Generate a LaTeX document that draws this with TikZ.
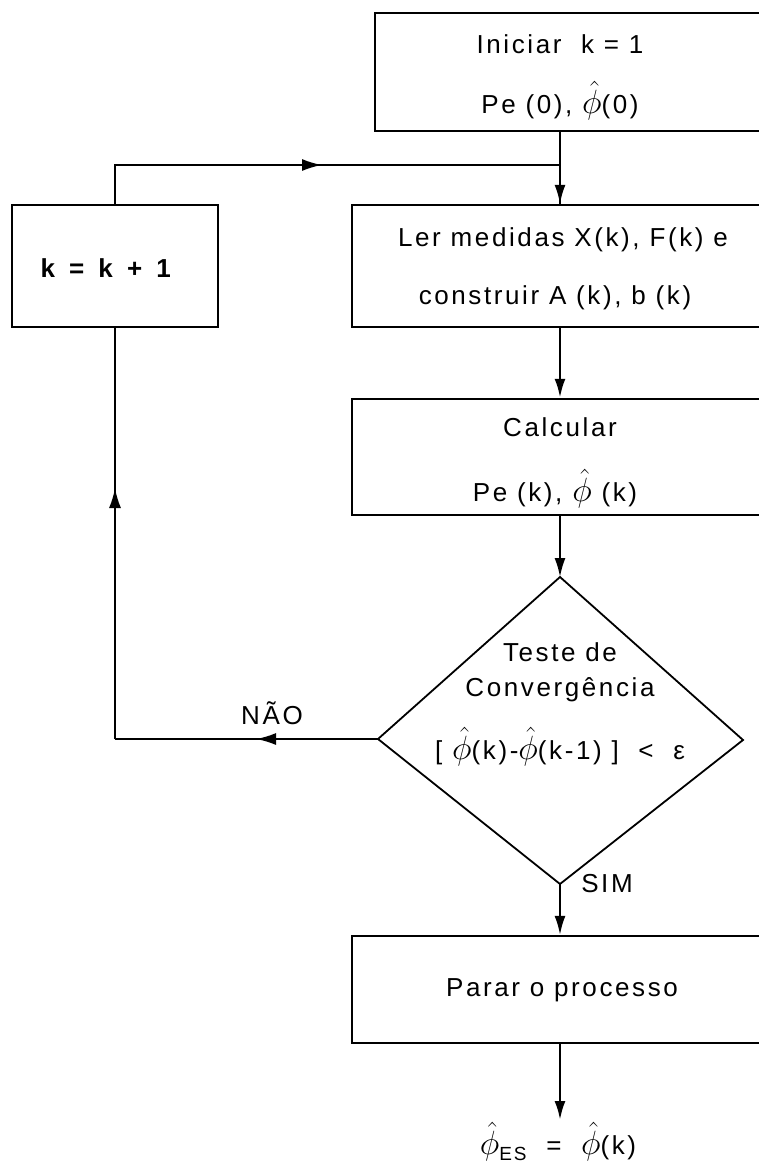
\documentclass[tikz,border=0pt]{standalone}
\usepackage{fontspec}
\setmainfont{Liberation Sans}[LetterSpace=10]
\usetikzlibrary{arrows.meta}
\newcommand{\phat}{\scalebox{1.35}{$\hat{\phi}$}}
\begin{document}
\begin{tikzpicture}[x=1pt,y=-1pt,
  box/.style={draw, line width=2.4pt, rectangle, inner sep=0pt},
  lbl/.style={inner sep=0pt, font=\fontsize{26}{30}\selectfont},
  conn/.style={line width=2pt},
  arr/.style={line width=2pt, -{Latex[length=19pt,width=11pt]}},
  tick/.style={line width=2pt, -{Latex[length=20pt,width=12pt]}}]
\useasboundingbox (0,0) rectangle (759,1167);
\fill[white] (0,0) rectangle (759,1167);
\clip (0,0) rectangle (759,1167);
% boxes
\node[box, minimum width=425pt, minimum height=118pt] (b1) at (587.5,72) {};
\node[box, minimum width=206pt, minimum height=122pt] (bk) at (115,266) {};
\node[box, minimum width=448pt, minimum height=122pt] (b2) at (576,266) {};
\node[box, minimum width=448pt, minimum height=116pt] (b3) at (576,457) {};
\node[box, minimum width=448pt, minimum height=107pt] (b4) at (576,989.5) {};
% diamond
\coordinate (dt) at (560,577);
\coordinate (dl) at (378,739);
\coordinate (dr) at (743,740);
\coordinate (db) at (560,884);
\draw[line width=1.8pt, line join=miter] (dt) -- (dr) -- (db) -- (dl) -- cycle;
% helper coordinates
\coordinate (c) at (560,0);
\coordinate (lc) at (115,0);
\coordinate (ltop) at (115,165);
\coordinate (rtop) at (560,165);
\coordinate (lbot) at (115,739);
\coordinate (amid) at (322,165);
\coordinate (nmid) at (256,739);
\coordinate (umid) at (115,488);
% texts
\node[lbl] (t1a) at (560,44) {Iniciar\ \ k = 1};
\node[lbl] (t1b) at (560,101) {Pe (0), \phat(0)};
\node[lbl] (tk) at (107,268) {\textbf{k\, =\, k\, +\, 1}};
\node[lbl] (t2a) at (563,240) {Ler medidas X(k), F(k) e};
\node[lbl] (t2b) at (555,298) {construir A (k), b (k)};
\node[lbl] (t3a) at (560,427) {Calcular};
\node[lbl] (t3b) at (555,489) {Pe (k), \phat\ (k)};
\node[lbl] (td1) at (560,652) {Teste de};
\node[lbl] (td2) at (560,690) {Convergência};
\node[lbl] (td3) at (560,747) {[ \phat(k)-\phat(k-1) ]\ \ <\ \ ε};
\node[lbl] (nao) at (272,713) {NÃO};
\node[lbl] (sim) at (607,884) {SIM};
\node[lbl] (t4) at (562,990) {Parar o processo};
\node[lbl] (fin) at (558,1142) {\phat\raisebox{-6pt}{\fontsize{19}{20}\selectfont ES}\ \ =\ \ \phat(k)};
\coordinate (fintop) at (560,1120);
% connectors
\draw[arr] (b1.south -| c) -- (b2.north -| c);
\draw[arr, line width=2.6pt] (b2.south -| c) -- (b3.north -| c);
\draw[arr] (b3.south -| c) -- (dt);
\draw[arr] (db) -- (b4.north -| c);
\draw[arr, line width=2.6pt] (b4.south -| c) -- (fintop);
% loop back
\draw[conn] (dl) -- (lbot);
\draw[tick] (dl) -- (nmid);
\draw[conn] (lbot) -- (bk.south -| lc);
\draw[tick] (lbot) -- (umid);
\draw[conn] (bk.north -| lc) -- (ltop) -- (rtop) -- (b2.north -| c);
\draw[tick] (ltop) -- (amid);
\end{tikzpicture}
\end{document}
